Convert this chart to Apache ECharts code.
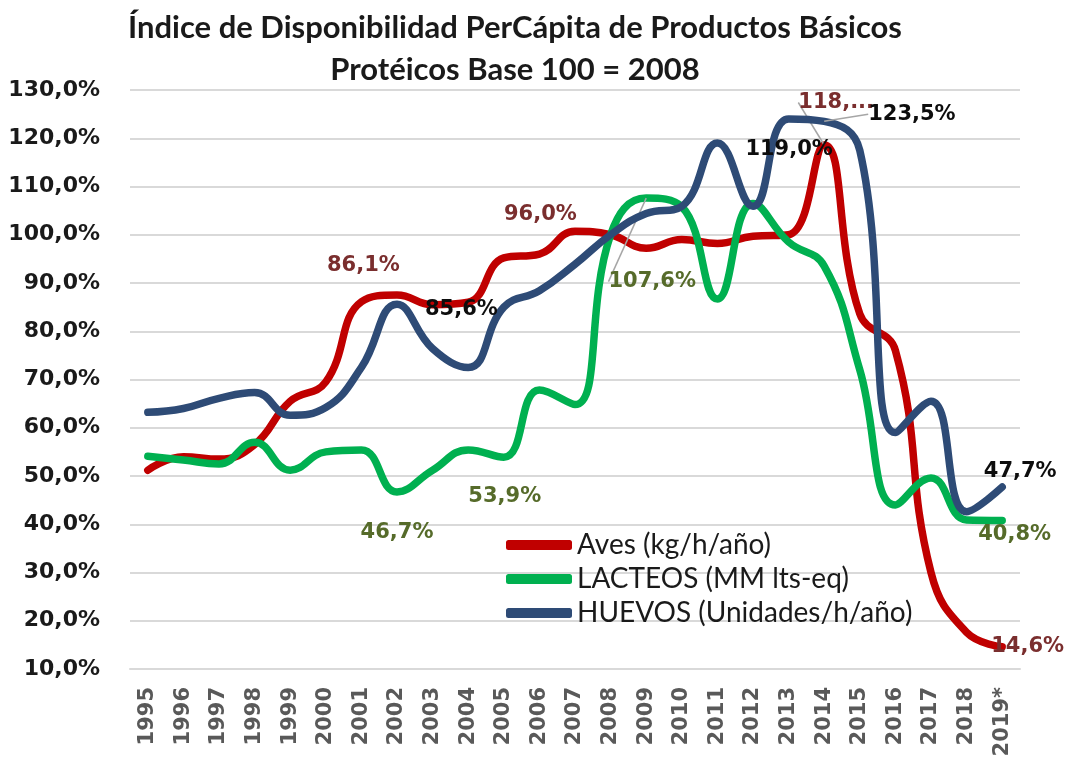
<!DOCTYPE html>
<html>
<head>
<meta charset="utf-8">
<script src="https://cdn.jsdelivr.net/npm/echarts@6/dist/echarts.min.js"></script>
<style>
  html, body { margin: 0; padding: 0; background: #ffffff; }
  #chart { width: 1071px; height: 760px; }
</style>
</head>
<body>
<div id="chart"></div>
<script>
// ---- Data ----
const years = ['1995','1996','1997','1998','1999','2000','2001','2002','2003','2004','2005','2006','2007','2008','2009','2010','2011','2012','2013','2014','2015','2016','2017','2018','2019*'];
const aves    = [51.2, 54.0, 53.5, 56.5, 65.5, 69.5, 86.1, 87.5, 85.5, 86.0, 95.2, 96.0, 100.7, 100.0, 97.2, 99.0, 98.2, 99.7, 100.0, 118.6, 83.6, 76.0, 30.0, 17.6, 14.6];
const lacteos = [54.1, 53.3, 52.5, 57.0, 51.2, 55.0, 55.4, 46.7, 51.2, 55.4, 53.9, 67.8, 64.8, 100.0, 107.6, 105.8, 86.7, 106.5, 98.5, 93.5, 72.0, 44.0, 49.6, 40.9, 40.8];
const huevos  = [63.2, 64.0, 66.1, 67.3, 62.6, 64.2, 72.5, 85.6, 76.4, 72.5, 85.0, 88.4, 93.9, 100.0, 104.4, 105.9, 119.0, 105.9, 124.0, 123.5, 117.5, 59.0, 65.5, 42.6, 47.7];
const seriesNames = ['Aves (kg/h/año)', 'LACTEOS (MM lts-eq)', 'HUEVOS (Unidades/h/año)'];
const labelledAves    = [6, 11, 19, 24];
const labelledLacteos = [7, 10, 14, 24];
const labelledHuevos  = [7, 16, 19, 24];
const yTicksMin = 10, yTicksMax = 130, yTickStep = 10;

// ---- Styling / label placement (not data) ----
const fmtPct = v => v.toFixed(1).replace('.', ',') + '%';
const labelSpec = {
  0: { 6: {pos:'top', dx:2, dy:-21}, 11: {pos:'top', dx:1, dy:-24}, 19: {pos:'top', dx:12, dy:-27, line:true, trunc:true}, 24: {pos:'right', dx:-16, dy:0} },
  1: { 7: {pos:'bottom', dx:0, dy:25}, 10: {pos:'bottom', dx:1, dy:24}, 14: {pos:'bottom', dx:6, dy:68, line:true}, 24: {pos:'right', dx:-29, dy:14} },
  2: { 7: {pos:'right', dx:23, dy:5}, 16: {pos:'right', dx:23, dy:6}, 19: {pos:'right', dx:39, dy:-7, line:true}, 24: {pos:'top', dx:18, dy:0} }
};
const labelColors = ['#7a2e2e', '#566b2a', '#0d0d0d'];
const lineColors = ['#c00000', '#00b050', '#2e4b76'];

function buildData(values, labelled, si) {
  return values.map((v, i) => {
    if (labelled.indexOf(i) < 0) return v;
    const s = labelSpec[si][i];
    const item = {
      value: v,
      label: {
        show: true,
        position: s.pos,
        distance: 5,
        color: labelColors[si],
        fontFamily: 'DejaVu Sans',
        fontWeight: 'bold',
        fontSize: 21,
        formatter: p => fmtPct(p.value)
      }
    };
    if (s.trunc) {
      item.label.width = 80;
      item.label.overflow = 'truncate';
      item.label.ellipsis = '...';
    }
    if (s.line) {
      item.labelLine = { show: true, lineStyle: { color: '#a6a6a6', width: 1.5 } };
    }
    return item;
  });
}

function mkSeries(name, values, labelled, si) {
  return {
    name: name,
    type: 'line',
    smooth: 0.45,
    symbol: 'circle',
    symbolSize: 0,
    showSymbol: true,
    data: buildData(values, labelled, si),
    lineStyle: { color: lineColors[si], width: 7.5, cap: 'round', join: 'round' },
    itemStyle: { color: lineColors[si] },
    labelLine: { show: false },
    labelLayout: function (params) {
      const s = labelSpec[si][params.dataIndex];
      if (!s) return {};
      return { dx: s.dx, dy: s.dy };
    },
    z: 2 + si
  };
}

const chart = echarts.init(document.getElementById('chart'), null, { renderer: 'canvas' });
chart.setOption({
  backgroundColor: '#ffffff',
  animation: false,
  title: {
    text: 'Índice de Disponibilidad PerCápita de Productos Básicos\nProtéicos Base 100 = 2008',
    left: 515,
    top: 7,
    padding: 0,
    textAlign: 'center',
    textStyle: { fontFamily: 'Lato', fontWeight: 'bold', fontSize: 31, lineHeight: 42, color: '#1a1a1a' }
  },
  legend: {
    orient: 'vertical',
    left: 506,
    top: 531,
    padding: 0,
    itemGap: 6,
    itemWidth: 66,
    itemHeight: 10,
    icon: 'roundRect',
    textStyle: { fontFamily: 'Lato', fontSize: 28, lineHeight: 28, color: '#1a1a1a' },
    data: seriesNames
  },
  grid: { left: 130, right: 51, top: 90, bottom: 91, containLabel: false },
  xAxis: {
    type: 'category',
    data: years,
    boundaryGap: true,
    axisLine: { show: true, lineStyle: { color: '#d9d9d9', width: 2 } },
    axisTick: { show: false },
    axisLabel: { rotate: 90, margin: 18, fontFamily: 'DejaVu Sans', fontWeight: 'bold', fontSize: 21, color: '#595959', interval: 0 }
  },
  yAxis: {
    type: 'value',
    min: yTicksMin,
    max: yTicksMax,
    interval: yTickStep,
    axisLine: { show: false },
    axisTick: { show: false },
    splitLine: { lineStyle: { color: '#d9d9d9', width: 2 } },
    axisLabel: { margin: 30, fontFamily: 'DejaVu Sans', fontWeight: 'bold', fontSize: 22, color: '#1a1a1a', formatter: v => fmtPct(v) }
  },
  series: [
    mkSeries(seriesNames[0], aves, labelledAves, 0),
    mkSeries(seriesNames[1], lacteos, labelledLacteos, 1),
    mkSeries(seriesNames[2], huevos, labelledHuevos, 2)
  ]
});
</script>
</body>
</html>
